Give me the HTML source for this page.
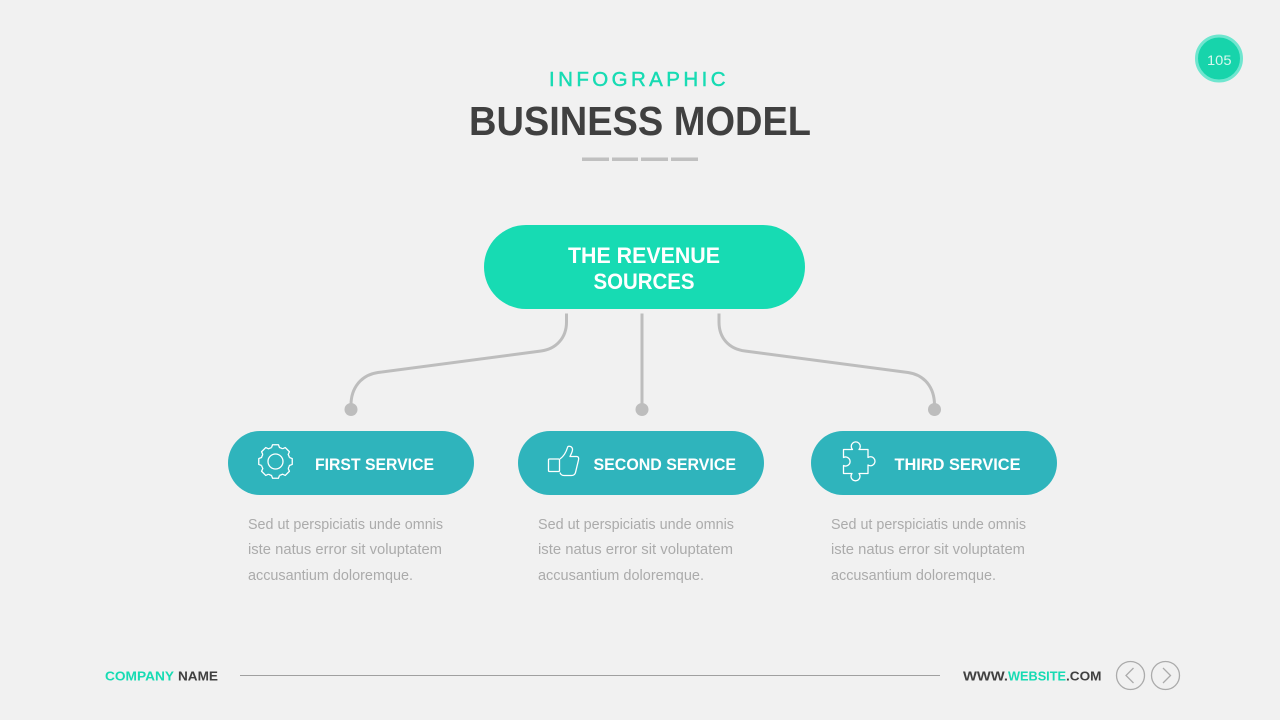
<!DOCTYPE html>
<html><head><meta charset="utf-8"><style>
html,body{margin:0;padding:0;width:1280px;height:720px;overflow:hidden;background:#f1f1f1}
svg{display:block}
text{font-family:"Liberation Sans",sans-serif}
</style></head><body>
<svg width="1280" height="720" viewBox="0 0 1280 720" xmlns="http://www.w3.org/2000/svg">
<rect width="1280" height="720" fill="#f1f1f1"/>
<circle cx="1219" cy="58.500" r="22.500" fill="#17d4ab" stroke="#6fe6cf" stroke-width="3"/>
<text x="1207" y="65" font-size="13.500" fill="#d8f8ee" textLength="24.500" lengthAdjust="spacingAndGlyphs">105</text>
<text x="549" y="86" font-size="20.500" fill="#17dbb3" stroke="#17dbb3" stroke-width="0.450" textLength="176.500" lengthAdjust="spacing">INFOGRAPHIC</text>
<text x="469" y="135" font-size="41" font-weight="700" fill="#404040" textLength="342" lengthAdjust="spacingAndGlyphs">BUSINESS MODEL</text>
<g fill="#c0c0c0"><rect x="582" y="157.500" width="27" height="3.500"/><rect x="612" y="157.500" width="26" height="3.500"/><rect x="641" y="157.500" width="27" height="3.500"/><rect x="671" y="157.500" width="27" height="3.500"/></g>
<rect x="484" y="225" width="321" height="84" rx="42" fill="#17dbb3"/>
<text x="568" y="263" font-size="22" font-weight="700" fill="#fff" textLength="152" lengthAdjust="spacingAndGlyphs">THE REVENUE</text>
<text x="593.500" y="289" font-size="22" font-weight="700" fill="#fff" textLength="101" lengthAdjust="spacingAndGlyphs">SOURCES</text>
<g fill="none" stroke="#bdbdbd" stroke-width="3">
<path d="M566.500 313.500V322C566.500 338 556 349 541 351L378 372.500C361 375 351 388 351 405"/>
<path d="M642 313.500V405"/>
<path d="M719 313.500V322C719 338 729 349 745 351L908 372.500C925 375 934.500 388 934.500 405"/>
</g>
<g fill="#bdbdbd"><circle cx="351" cy="409.500" r="6.500"/><circle cx="642" cy="409.500" r="6.500"/><circle cx="934.500" cy="409.500" r="6.500"/></g>
<g fill="#2fb4bc"><rect x="228" y="431" width="246" height="64" rx="32"/><rect x="518" y="431" width="246" height="64" rx="32"/><rect x="811" y="431" width="246" height="64" rx="32"/></g>
<g font-size="17" font-weight="700" fill="#fff">
<text x="315" y="470" textLength="119" lengthAdjust="spacingAndGlyphs">FIRST SERVICE</text>
<text x="593.500" y="470" textLength="142.500" lengthAdjust="spacingAndGlyphs">SECOND SERVICE</text>
<text x="894.500" y="470" textLength="126" lengthAdjust="spacingAndGlyphs">THIRD SERVICE</text>
</g>
<g fill="none" stroke="#fff" stroke-width="1.300" stroke-linejoin="round">
<circle cx="275.500" cy="461.500" r="7.500"/>
<g transform="translate(275.500 461.500)">
<path id="t" d="M-4 -13.940L-2.950 -16.740H2.950L4 -13.940A14.500 14.500 0 0 1 7.030 -12.680"/>
<path transform="rotate(45)" d="M-4 -13.940L-2.950 -16.740H2.950L4 -13.940A14.500 14.500 0 0 1 7.030 -12.680"/>
<path transform="rotate(90)" d="M-4 -13.940L-2.950 -16.740H2.950L4 -13.940A14.500 14.500 0 0 1 7.030 -12.680"/>
<path transform="rotate(135)" d="M-4 -13.940L-2.950 -16.740H2.950L4 -13.940A14.500 14.500 0 0 1 7.030 -12.680"/>
<path transform="rotate(180)" d="M-4 -13.940L-2.950 -16.740H2.950L4 -13.940A14.500 14.500 0 0 1 7.030 -12.680"/>
<path transform="rotate(225)" d="M-4 -13.940L-2.950 -16.740H2.950L4 -13.940A14.500 14.500 0 0 1 7.030 -12.680"/>
<path transform="rotate(270)" d="M-4 -13.940L-2.950 -16.740H2.950L4 -13.940A14.500 14.500 0 0 1 7.030 -12.680"/>
<path transform="rotate(315)" d="M-4 -13.940L-2.950 -16.740H2.950L4 -13.940A14.500 14.500 0 0 1 7.030 -12.680"/>
</g>
<rect x="548.500" y="459" width="11" height="12.500" rx="1"/>
<path d="M560 459C564 456 566.500 451 567.500 447.500C568 445.500 572 446 572.500 449C572.800 451.500 571 454 570 456.500H576.500C578.500 456.500 579 458 578.500 460L575.500 472.500C575 474.500 573.500 475.500 571.500 475.500H564C562 475.500 560.500 474.500 560 472.500"/>
<path d="M843.500 449.500H852.500A4.500 4.500 0 1 1 859 449.500H868V457.500A4.500 4.500 0 1 1 868 465V473.500H859A4.500 4.500 0 1 1 852 473.500H843.500V465.500A4.500 4.500 0 1 0 843.500 457.500Z"/>
</g>
<g font-size="15" fill="#ababab">
<text x="248" y="529" textLength="195" lengthAdjust="spacingAndGlyphs">Sed ut perspiciatis unde omnis</text>
<text x="248" y="554" textLength="194" lengthAdjust="spacingAndGlyphs">iste natus error sit voluptatem</text>
<text x="248" y="580" textLength="165" lengthAdjust="spacingAndGlyphs">accusantium doloremque.</text>
<text x="538" y="529" textLength="196" lengthAdjust="spacingAndGlyphs">Sed ut perspiciatis unde omnis</text>
<text x="538" y="554" textLength="195" lengthAdjust="spacingAndGlyphs">iste natus error sit voluptatem</text>
<text x="538" y="580" textLength="166" lengthAdjust="spacingAndGlyphs">accusantium doloremque.</text>
<text x="831" y="529" textLength="195" lengthAdjust="spacingAndGlyphs">Sed ut perspiciatis unde omnis</text>
<text x="831" y="554" textLength="194" lengthAdjust="spacingAndGlyphs">iste natus error sit voluptatem</text>
<text x="831" y="580" textLength="165" lengthAdjust="spacingAndGlyphs">accusantium doloremque.</text>
</g>
<g font-size="13" font-weight="700">
<text x="105" y="680.500" fill="#17dbb3" textLength="69" lengthAdjust="spacingAndGlyphs">COMPANY</text>
<text x="178" y="680.500" fill="#404040" textLength="40" lengthAdjust="spacingAndGlyphs">NAME</text>
<text x="963" y="680.500" fill="#404040" textLength="45" lengthAdjust="spacingAndGlyphs">WWW.</text>
<text x="1008" y="680.500" fill="#17dbb3" textLength="58" lengthAdjust="spacingAndGlyphs">WEBSITE</text>
<text x="1066" y="680.500" fill="#404040" textLength="35.500" lengthAdjust="spacingAndGlyphs">.COM</text>
</g>
<rect x="240" y="675" width="700" height="1" fill="#a0a0a0"/>
<g fill="none" stroke="#ababab" stroke-width="1.300">
<circle cx="1130.500" cy="675.500" r="14"/><circle cx="1165.500" cy="675.500" r="14"/>
<path d="M1133.500 668L1126 675.500L1133.500 683"/><path d="M1163 668L1170.500 675.500L1163 683"/>
</g>
</svg>
</body></html>
